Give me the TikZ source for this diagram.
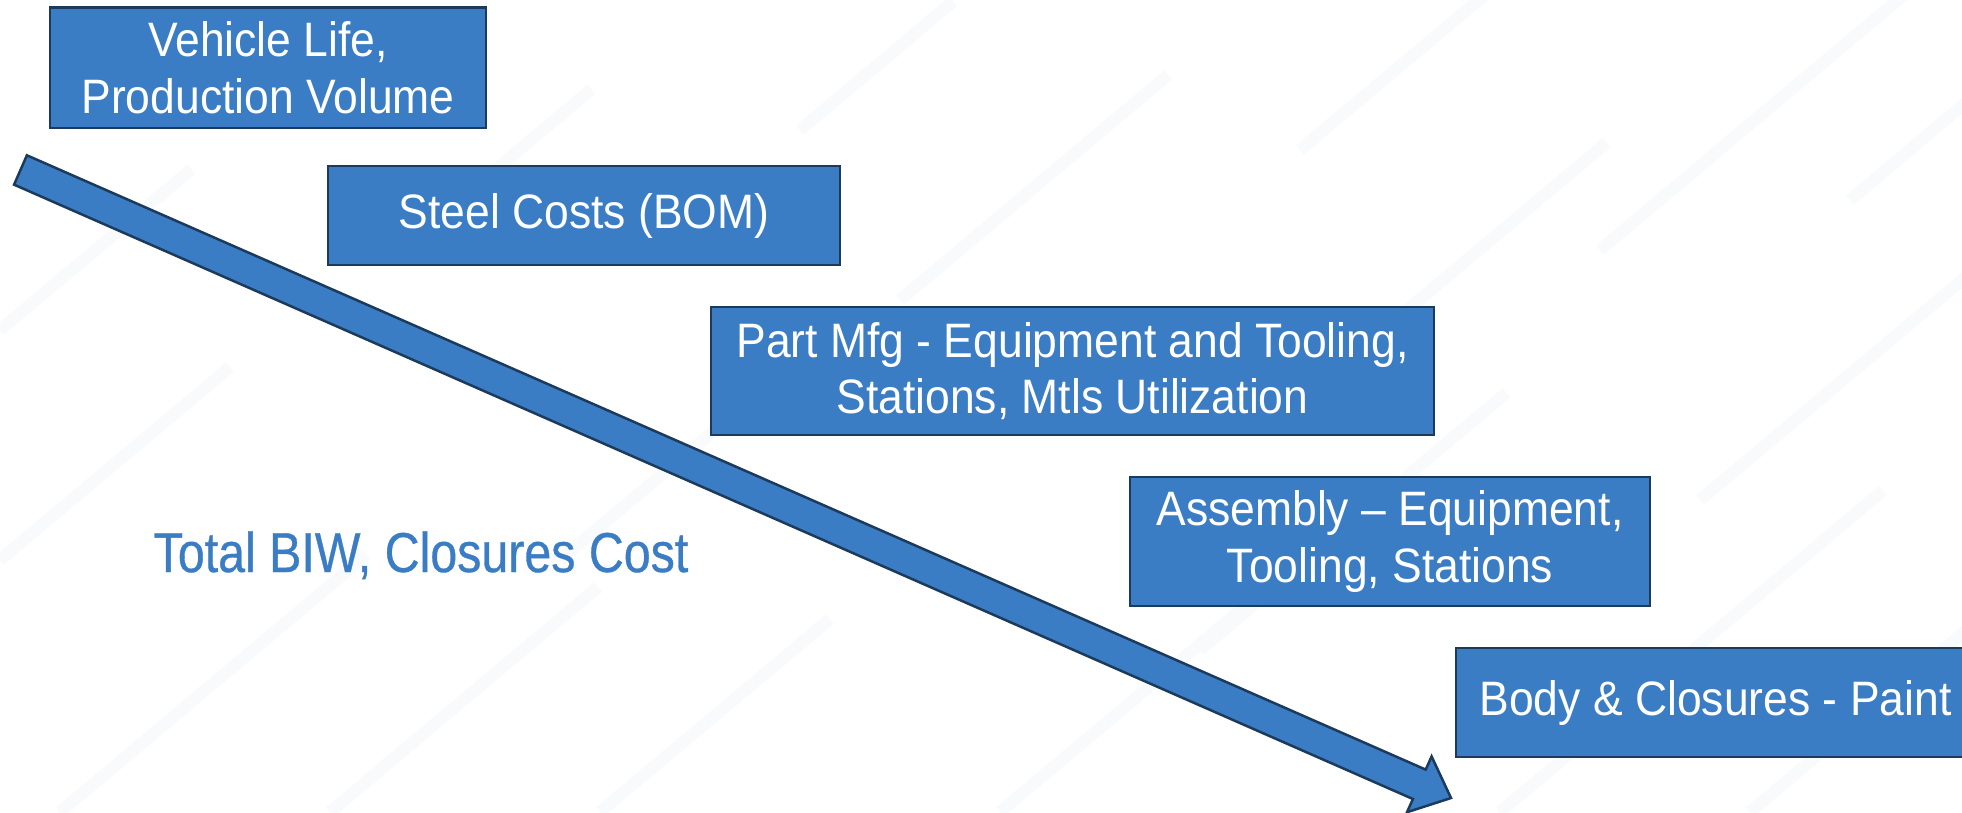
\documentclass[tikz,border=0pt]{standalone}
\usepackage{fontspec}
\setmainfont{Liberation Sans}[FakeStretch=0.92]
\newfontfamily\titlefont{Liberation Sans}[FakeStretch=0.86,FakeBold=0.6]
\usetikzlibrary{calc}
\definecolor{boxblue}{HTML}{3B7DC4}
\definecolor{boxedge}{HTML}{1B3A5C}
\definecolor{stripe}{HTML}{F9FAFC}
\tikzset{
  box/.style={draw=boxedge, fill=boxblue, line width=0.05cm, text=white,
    align=center, inner sep=0pt, font=\fontsize{27.5}{32}\selectfont},
  stripeline/.style={draw=stripe, line width=0.24cm},
  bigarrow/.style={draw=boxedge, fill=boxblue, line width=0.05cm, line join=miter},
  title/.style={text=boxblue, inner sep=0pt, anchor=base, font=\titlefont\fontsize{32}{36}\selectfont}
}
\begin{document}
\begin{tikzpicture}[x=0.02cm, y=-0.02cm]
\useasboundingbox (0,0) rectangle (1962,812);
\clip (0,0) rectangle (1962,812);
\fill[white] (0,0) rectangle (1962,812);
% faint background stripes
\foreach \sx/\sy/\len in {0/330/250, 0/560/300, 60/812/400, 330/812/350, 560/560/300,
  600/812/300, 900/300/350, 1000/812/350, 1200/650/400, 1300/400/400, 1500/812/500,
  1600/250/400, 1750/812/450, 1700/500/350, 1850/200/250, 1300/150/300, 400/250/250, 800/130/200}
  \draw[stripeline] (\sx,\sy) -- ++(0.766*\len,-0.643*\len);
% big arrow
\coordinate (tail) at (20.5,170);
\coordinate (tip) at (1451,798);
\draw[bigarrow] (26.9,155.3) -- (1425.7,769.6) -- (1431.6,756.4) -- (tip)
  -- (1407.0,812.2) -- (1412.9,799.0) -- (14.07,184.65) -- cycle;
% boxes
\node[box, minimum width=8.72cm, minimum height=2.41cm] (b1) at (268,67.75)
  {Vehicle Life,\\Production Volume};
\node[box, minimum width=10.24cm, minimum height=1.98cm] (b2) at (584,215.5)
  {Steel Costs (BOM)};
\node[box, minimum width=14.46cm, minimum height=2.56cm] (b3) at (1072.5,371)
  {Part Mfg - Equipment and Tooling,\\Stations, Mtls Utilization};
\node[box, minimum width=10.4cm, minimum height=2.58cm] (b4) at (1390,541.5)
  {Assembly – Equipment,\\Tooling, Stations};
\node[box, minimum width=10.38cm, minimum height=2.18cm] (b5) at (1715.5,702.5)
  {Body \& Closures - Paint};
% label
\node[title] (total) at (421,572) {Total BIW, Closures Cost};
\end{tikzpicture}
\end{document}
